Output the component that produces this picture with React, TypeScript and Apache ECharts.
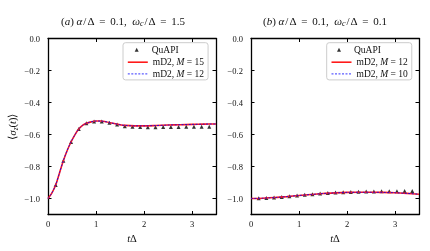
import React, { useEffect, useRef } from "react";
import * as echarts from "echarts";

// ---------------- data ----------------
const quapiT = [0.16, 0.32, 0.48, 0.64, 0.8, 0.96, 1.12, 1.28, 1.44, 1.6, 1.76, 1.92, 2.08, 2.24, 2.4, 2.56, 2.72, 2.88, 3.04, 3.2, 3.36];

// panel (a)
const aQuapi = [-0.916, -0.764, -0.647, -0.566, -0.53, -0.518, -0.518, -0.527, -0.538, -0.548, -0.552, -0.553, -0.554, -0.554, -0.553, -0.553, -0.553, -0.552, -0.552, -0.552, -0.552];
const aLineT = [0, 0.08, 0.16, 0.24, 0.32, 0.4, 0.48, 0.56, 0.64, 0.72, 0.8, 0.9, 1.0, 1.1, 1.2, 1.3, 1.4, 1.5, 1.6, 1.8, 2.0, 2.25, 2.5, 2.75, 3.0, 3.25, 3.5];
const aM15 = [-1.0, -0.966, -0.916, -0.84, -0.764, -0.7, -0.647, -0.602, -0.566, -0.543, -0.53, -0.521, -0.516, -0.516, -0.52, -0.526, -0.533, -0.539, -0.543, -0.546, -0.546, -0.544, -0.541, -0.539, -0.537, -0.535, -0.534];
const aM12 = [-1.0, -0.966, -0.915, -0.839, -0.763, -0.699, -0.646, -0.602, -0.566, -0.543, -0.53, -0.521, -0.516, -0.516, -0.52, -0.526, -0.533, -0.539, -0.543, -0.546, -0.546, -0.544, -0.541, -0.539, -0.537, -0.535, -0.534];

// panel (b)
const bQuapi = [-0.999, -0.997, -0.994, -0.99, -0.986, -0.981, -0.977, -0.973, -0.969, -0.966, -0.963, -0.961, -0.959, -0.958, -0.957, -0.956, -0.955, -0.954, -0.954, -0.953, -0.953];
const bLineT = [0, 0.25, 0.5, 0.75, 1.0, 1.25, 1.5, 1.75, 2.0, 2.25, 2.5, 2.75, 3.0, 3.25, 3.5];
const bM12 = [-1.0, -0.998, -0.994, -0.988, -0.981, -0.975, -0.969, -0.965, -0.962, -0.961, -0.961, -0.962, -0.964, -0.968, -0.973];
const bM10 = [-1.0, -0.998, -0.994, -0.988, -0.981, -0.975, -0.969, -0.965, -0.962, -0.961, -0.961, -0.962, -0.964, -0.968, -0.973];

const xTicks = [0, 1, 2, 3];
const yTicks = [-1.0, -0.8, -0.6, -0.4, -0.2, 0.0];

const legendNames: Record<string, string> = {
  a_m15: "{n|mD2, }{i|M}{n| = 15}",
  a_m12: "{n|mD2, }{i|M}{n| = 12}",
  b_m12: "{n|mD2, }{i|M}{n| = 12}",
  b_m10: "{n|mD2, }{i|M}{n| = 10}",
  a_qu: "{p|QuAPI}",
  b_qu: "{p|QuAPI}",
};

const FONT = "Liberation Serif";
const TXT = "#111111";

const zip = (xs: number[], ys: number[]) => xs.map((x, i) => [x, ys[i]]);

export default function App() {
  const ref = useRef<HTMLDivElement>(null);
  useEffect(() => {
    if (!ref.current) return;
    const chart = echarts.init(ref.current, undefined, { renderer: "svg" });

    const gridTop = 38.5;
    const gridH = 176;
    const gridW = 168;
    const grids = [
      { left: 48, top: gridTop, width: gridW, height: gridH },
      { left: 251, top: gridTop, width: gridW, height: gridH },
    ];

    const axisLine = { show: true, onZero: false, lineStyle: { color: "#000", width: 1.3 } };
    const tick = (vals: number[]) => ({
      show: true,
      inside: true,
      length: 3.5,
      customValues: vals,
      lineStyle: { color: "#000", width: 1 },
    });
    const tickLabelStyle = { fontFamily: FONT, fontSize: 8.5, color: TXT, fontWeight: "normal" };
    const fmtY = (v: number) => {
      const s = Math.abs(v) < 1e-9 ? "0.0" : v.toFixed(1);
      return s.replace("-", "\u2212");
    };
    const nameRich = {
      i: { fontFamily: FONT, fontSize: 10.5, fontStyle: "italic", fontWeight: "normal", color: TXT },
      n: { fontFamily: FONT, fontSize: 10.5, fontWeight: "normal", color: TXT },
      s: { fontFamily: FONT, fontSize: 7.5, fontStyle: "italic", fontWeight: "normal", color: TXT, padding: [5, 0, 0, 0] },
    };

    const xAxes: any[] = [];
    const yAxes: any[] = [];
    [0, 1].forEach((g) => {
      xAxes.push({
        type: "value",
        gridIndex: g,
        min: 0,
        max: 3.5,
        position: "bottom",
        axisLine,
        axisTick: tick(xTicks),
        splitLine: { show: false },
        axisLabel: { show: true, customValues: xTicks, margin: 5, ...tickLabelStyle, formatter: (v: number) => String(v) },
        name: "{i|t}{n|\u0394}",
        nameLocation: "middle",
        nameGap: 14.5,
        nameTextStyle: { fontFamily: FONT, fontSize: 10.5, color: TXT, fontWeight: "normal", rich: nameRich },
      });
      xAxes.push({
        type: "value",
        gridIndex: g,
        min: 0,
        max: 3.5,
        position: "top",
        axisLine,
        axisTick: tick(xTicks),
        splitLine: { show: false },
        axisLabel: { show: false },
      });
      yAxes.push({
        type: "value",
        gridIndex: g,
        min: -1.1,
        max: 0,
        position: "left",
        axisLine,
        axisTick: tick(yTicks),
        splitLine: { show: false },
        axisLabel: { show: true, customValues: yTicks, margin: 8, ...tickLabelStyle, formatter: fmtY },
        name: g === 0 ? "{n|\u27e8}{i|\u03c3}{s|z}{n|(}{i|t}{n|)\u27e9}" : "",
        nameLocation: "middle",
        nameGap: 29,
        nameTextStyle: { fontFamily: FONT, fontSize: 10.5, color: TXT, fontWeight: "normal", rich: nameRich },
      });
      yAxes.push({
        type: "value",
        gridIndex: g,
        min: -1.1,
        max: 0,
        position: "right",
        axisLine,
        axisTick: tick(yTicks),
        splitLine: { show: false },
        axisLabel: { show: false },
      });
    });

    const TS = 11;
    const base = { fontFamily: FONT, fontSize: TS, fontWeight: "normal", color: TXT };
    const titleRich = {
      n: { ...base },
      i: { ...base, fontStyle: "italic" },
      o: { ...base, padding: [0, 1, 0, 1] },
      e: { ...base, padding: [0, 2, 0, 2] },
      s: { ...base, fontSize: 8, fontStyle: "italic", padding: [5, 0, 0, 0] },
    };
    const mkTitle = (label: string, wc: string, cx: number) => ({
      text: `{n|(}{i|${label}}{n|) }{i|\u03b1}{o|/}{n|\u0394}{e| = }{n|0.1,\u2002}{i|\u03c9}{s|c}{o|/}{n|\u0394}{e| = }{n|${wc}}`,
      left: cx,
      top: 9.5,
      textAlign: "center",
      textStyle: { rich: titleRich, ...base },
    });

    const legendRich = {
      n: { fontFamily: FONT, fontSize: 9.5, color: TXT, lineHeight: 11 },
      i: { fontFamily: FONT, fontSize: 9.5, fontStyle: "italic", color: TXT, lineHeight: 11 },
      p: { fontFamily: FONT, fontSize: 9.5, color: TXT, lineHeight: 11, padding: [0, 0, 0, 8] },
    };
    const fmtLegend = (name: string) => legendNames[name] || name;
    const lineLegend = (data: string[], left: number) => ({
      data,
      orient: "vertical",
      left,
      top: 42.7,
      itemWidth: 20,
      itemHeight: 7,
      itemGap: 0.7,
      padding: [14, 4, 0.5, 4],
      borderColor: "#cccccc",
      borderWidth: 1,
      borderRadius: 2.5,
      backgroundColor: "rgba(255,255,255,0.8)",
      selectedMode: false,
      itemStyle: { opacity: 0 },
      lineStyle: { width: "inherit" },
      formatter: fmtLegend,
      textStyle: { fontFamily: FONT, fontSize: 9.5, lineHeight: 11, color: TXT, rich: legendRich },
      z: 5,
    });
    const quLegend = (name: string, left: number) => ({
      data: [name],
      orient: "vertical",
      left,
      top: 44.2,
      itemWidth: 4,
      itemHeight: 4,
      padding: 0,
      selectedMode: false,
      formatter: fmtLegend,
      textStyle: { fontFamily: FONT, fontSize: 9.5, lineHeight: 11, color: TXT, rich: legendRich },
      z: 6,
    });

    const scatter = (name: string, ys: number[], g: number) => ({
      name,
      type: "scatter",
      xAxisIndex: g * 2,
      yAxisIndex: g * 2,
      symbol: "triangle",
      symbolSize: 4,
      itemStyle: { color: "#000" },
      data: zip(quapiT, ys),
      z: 2,
    });
    const solid = (name: string, xs: number[], ys: number[], g: number) => ({
      name,
      type: "line",
      xAxisIndex: g * 2,
      yAxisIndex: g * 2,
      symbol: "none",
      smooth: 0.3,
      itemStyle: { color: "#ff1a1a" },
      lineStyle: { color: "#ff1a1a", width: 1.6 },
      data: zip(xs, ys),
      z: 3,
    });
    const dashed = (name: string, xs: number[], ys: number[], g: number) => ({
      name,
      type: "line",
      xAxisIndex: g * 2,
      yAxisIndex: g * 2,
      symbol: "none",
      smooth: 0.3,
      itemStyle: { color: "#0000ff" },
      lineStyle: { color: "#0000ff", width: 0.8, type: [2, 1.5] },
      data: zip(xs, ys),
      z: 4,
    });

    chart.setOption({
      animation: false,
      backgroundColor: "#ffffff",
      title: [mkTitle("a", "1.5", 118), mkTitle("b", "0.1", 320)],
      grid: grids,
      xAxis: xAxes,
      yAxis: yAxes,
      legend: [
        lineLegend(["a_m15", "a_m12"], 123),
        quLegend("a_qu", 134.7),
        lineLegend(["b_m12", "b_m10"], 326.7),
        quLegend("b_qu", 337),
      ],
      series: [
        scatter("a_qu", aQuapi, 0),
        solid("a_m15", aLineT, aM15, 0),
        dashed("a_m12", aLineT, aM12, 0),
        scatter("b_qu", bQuapi, 1),
        solid("b_m12", bLineT, bM12, 1),
        dashed("b_m10", bLineT, bM10, 1),
      ],
    });
    return () => chart.dispose();
  }, []);
  return (
    <div
      ref={ref}
      style={{ position: "fixed", left: 0, top: 0, width: 430, height: 251, willChange: "transform" }}
    />
  );
}
